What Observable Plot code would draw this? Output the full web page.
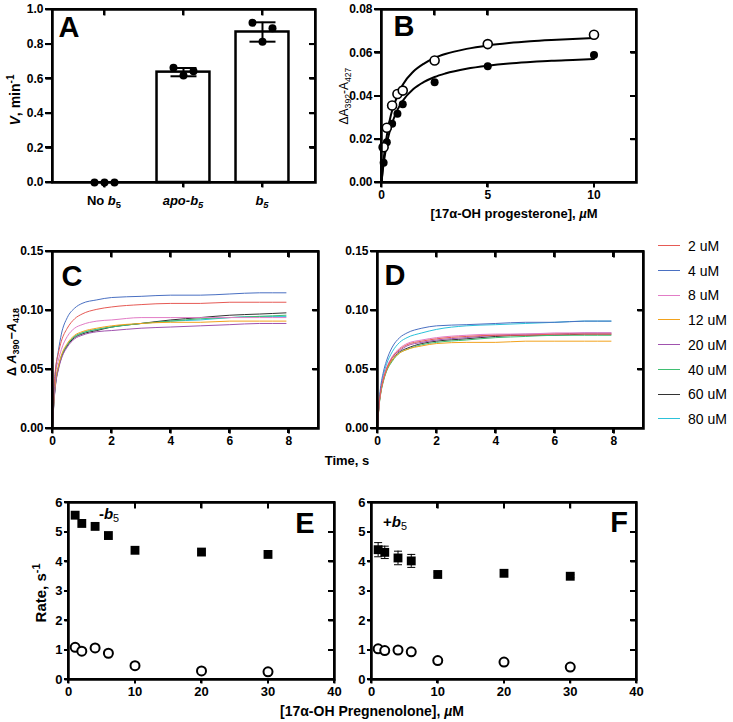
<!DOCTYPE html>
<html><head><meta charset="utf-8">
<script src="https://cdn.jsdelivr.net/npm/d3@7"></script>
<script src="https://cdn.jsdelivr.net/npm/@observablehq/plot@0.6"></script>
<style>
body{margin:0;background:#fff;}
#fig{position:relative;width:733px;height:722px;font-family:"Liberation Sans",Arial,sans-serif;background:#fff;}
.pnl{position:absolute;}
.lbl{position:absolute;white-space:nowrap;color:#000;line-height:1;}
.lbl sub{font-size:0.72em;vertical-align:-0.35em;line-height:0;}
.lbl sup{font-size:0.72em;vertical-align:0.55em;line-height:0;}
.leg{position:absolute;height:0;border-top:1.5px solid #000;width:22px;}
.deco{position:absolute;box-sizing:border-box;pointer-events:none;}
</style></head><body><div id="fig"></div>
<script>
// ---------------- Panel A data ----------------
const aCategories = ["No b5", "apo-b5", "b5"];
const aCategoryLabels = ["No <i>b</i><sub>5</sub>", "<i>apo-b</i><sub><i>5</i></sub>", "<i>b</i><sub><i>5</i></sub>"];
const aMeans = [0, 0.638, 0.870];
const aSD = [0, 0.024, 0.056];
const aRep1 = [0, 0.663, 0.923];
const aRep2 = [0, 0.618, 0.813];
const aRep3 = [0, 0.643, 0.892];
const aYTicks = [0, 0.2, 0.4, 0.6, 0.8, 1.0];

// ---------------- Panel B data ----------------
const bConc = [0.1, 0.25, 0.5, 0.75, 1, 2.5, 5, 10];
const bOpen = [0.0163, 0.0253, 0.0356, 0.0409, 0.0425, 0.0564, 0.0640, 0.0683];
const bFilled = [0.0091, 0.0186, 0.0272, 0.0318, 0.0362, 0.0464, 0.0538, 0.0590];
const bCurveX = [0, 0.05, 0.1, 0.2, 0.3, 0.4, 0.5, 0.75, 1, 1.5, 2, 2.5, 3, 4, 5, 6, 7, 8, 9, 10];
const bCurveOpen = [0, 0.0058, 0.0107, 0.0185, 0.0246, 0.0294, 0.0333, 0.0400, 0.0452, 0.0513, 0.0550, 0.0576, 0.0594, 0.0618, 0.0634, 0.0645, 0.0653, 0.0659, 0.0664, 0.0668];
const bCurveFilled = [0, 0.0047, 0.0086, 0.0151, 0.0202, 0.0242, 0.0275, 0.0336, 0.0378, 0.0432, 0.0465, 0.0488, 0.0504, 0.0526, 0.0540, 0.0550, 0.0557, 0.0563, 0.0567, 0.0571];
const bYTicks = [0, 0.02, 0.04, 0.06, 0.08];
const bXTicks = [0, 5, 10];

// ---------------- Panels C / D data ----------------
const concLabels = ["2 uM", "4 uM", "8 uM", "12 uM", "20 uM", "40 uM", "60 uM", "80 uM"];
const concColors = ["#e65a55", "#4a70c2", "#e27cc6", "#f2a21c", "#a052ae", "#3fbf72", "#333333", "#2cc2da"];
const traceTimes = [0, 0.05, 0.1, 0.2, 0.3, 0.5, 0.75, 1, 1.5, 2, 3, 4, 5, 6, 7, 7.9];
const tracesC = [
  [0, 0.035, 0.050, 0.064, 0.074, 0.085, 0.093, 0.097, 0.101, 0.103, 0.105, 0.106, 0.106, 0.107, 0.107, 0.107],
  [0, 0.030, 0.048, 0.066, 0.080, 0.094, 0.102, 0.106, 0.109, 0.111, 0.112, 0.113, 0.113, 0.114, 0.115, 0.115],
  [0, 0.030, 0.045, 0.058, 0.067, 0.078, 0.085, 0.088, 0.091, 0.092, 0.094, 0.094, 0.094, 0.094, 0.094, 0.094],
  [0, 0.025, 0.040, 0.053, 0.062, 0.072, 0.079, 0.082, 0.085, 0.087, 0.089, 0.090, 0.090, 0.091, 0.091, 0.091],
  [0, 0.022, 0.036, 0.050, 0.059, 0.069, 0.076, 0.079, 0.082, 0.083, 0.085, 0.086, 0.087, 0.088, 0.089, 0.089],
  [0, 0.024, 0.038, 0.052, 0.061, 0.071, 0.078, 0.081, 0.084, 0.086, 0.089, 0.091, 0.093, 0.094, 0.095, 0.096],
  [0, 0.023, 0.037, 0.051, 0.060, 0.070, 0.077, 0.080, 0.083, 0.086, 0.089, 0.092, 0.094, 0.096, 0.097, 0.098],
  [0, 0.024, 0.038, 0.052, 0.061, 0.071, 0.078, 0.081, 0.084, 0.086, 0.089, 0.091, 0.092, 0.094, 0.095, 0.095]
];
const tracesD = [
  [0, 0.020, 0.030, 0.042, 0.050, 0.060, 0.067, 0.071, 0.074, 0.076, 0.078, 0.079, 0.079, 0.080, 0.080, 0.080],
  [0, 0.022, 0.034, 0.048, 0.057, 0.069, 0.077, 0.081, 0.085, 0.087, 0.088, 0.089, 0.090, 0.090, 0.091, 0.091],
  [0, 0.020, 0.031, 0.043, 0.051, 0.061, 0.068, 0.072, 0.075, 0.077, 0.079, 0.080, 0.080, 0.081, 0.081, 0.081],
  [0, 0.019, 0.029, 0.041, 0.049, 0.058, 0.064, 0.067, 0.070, 0.072, 0.073, 0.073, 0.074, 0.074, 0.074, 0.074],
  [0, 0.019, 0.030, 0.042, 0.050, 0.060, 0.066, 0.070, 0.073, 0.075, 0.077, 0.079, 0.080, 0.080, 0.081, 0.081],
  [0, 0.018, 0.028, 0.040, 0.048, 0.057, 0.064, 0.067, 0.071, 0.073, 0.075, 0.077, 0.078, 0.079, 0.079, 0.079],
  [0, 0.019, 0.029, 0.041, 0.049, 0.058, 0.065, 0.068, 0.072, 0.074, 0.076, 0.078, 0.079, 0.079, 0.080, 0.080],
  [0, 0.020, 0.031, 0.045, 0.054, 0.065, 0.073, 0.077, 0.081, 0.084, 0.087, 0.088, 0.089, 0.090, 0.091, 0.091]
];
const cdYTicks = [0, 0.05, 0.10, 0.15];
const cdXTicks = [0, 2, 4, 6, 8];

// ---------------- Panels E / F data ----------------
const efConc = [1, 2, 4, 6, 10, 20, 30];
const eFast = [5.57, 5.29, 5.19, 4.88, 4.38, 4.32, 4.24];
const eSlow = [1.09, 0.96, 1.07, 0.89, 0.47, 0.29, 0.26];
const fFast = [4.40, 4.31, 4.12, 4.02, 3.56, 3.60, 3.50];
const fFastErr = [0.24, 0.21, 0.23, 0.22, 0.08, 0.08, 0.05];
const fSlow = [1.04, 0.98, 1.00, 0.94, 0.64, 0.59, 0.42];
const efYTicks = [0, 1, 2, 3, 4, 5, 6];
const efXTicks = [0, 10, 20, 30, 40];

// ---------------- helpers ----------------
const fig = document.getElementById("fig");
const FONT = '"Liberation Sans", Arial, sans-serif';
const decorations = [];
function panel([bx, by, bw, bh], [l, t, r, b], opts, fontSize = "12px") {
  const svg = Plot.plot({
    width: bw, height: bh,
    marginLeft: l - bx, marginTop: t - by, marginRight: bx + bw - r, marginBottom: by + bh - b,
    style: {background: "white", fontFamily: FONT, fontSize, fontWeight: "bold", color: "black"},
    ...opts
  });
  svg.classList.add("pnl");
  svg.style.left = bx + "px";
  svg.style.top = by + "px";
  fig.appendChild(svg);
  return svg;
}
function label(html, x, y, {size = 12, weight = "bold", rotate = false, anchor = "middle"} = {}) {
  const d = document.createElement("div");
  d.className = "lbl";
  d.innerHTML = html;
  d.style.left = x + "px";
  d.style.top = y + "px";
  d.style.fontSize = size + "px";
  d.style.fontWeight = weight;
  const tx = anchor === "middle" ? "-50%" : anchor === "start" ? "0" : "-100%";
  d.style.transform = `translate(${tx},-50%)` + (rotate ? " rotate(-90deg)" : "");
  fig.appendChild(d);
  return d;
}
const capSymbol = {draw(ctx, size) { const h = Math.sqrt(size / Math.PI); ctx.moveTo(-h, 0); ctx.lineTo(h, 0); }};
const tickLeftSym = {draw(ctx, size) { const h = Math.sqrt(size / Math.PI); ctx.moveTo(0, 0); ctx.lineTo(-h, 0); }};
const tickDownSym = {draw(ctx, size) { const h = Math.sqrt(size / Math.PI); ctx.moveTo(0, 0); ctx.lineTo(0, h); }};

function frameMarks(xd, yd, {yLeft, yFmt, ySize = 7, xBottom, xFmt, xSize = 5, yRight, xTop, inSize = 6}) {
  const tickStyle = {stroke: "black", strokeWidth: 2, fill: "none"};
  const marks = [
    Plot.frame({stroke: "black", strokeWidth: 2.5}),
    Plot.dot(yLeft, {x: () => xd[0], y: d => d, symbol: tickLeftSym, r: ySize, ...tickStyle}),
    Plot.dot(xBottom, {x: d => d, y: () => yd[0], symbol: tickDownSym, r: xSize, ...tickStyle}),
    Plot.dot(yRight, {x: () => xd[1], y: d => d, symbol: tickLeftSym, r: inSize, ...tickStyle}),
    Plot.dot(xTop, {x: d => d, y: () => yd[1], symbol: tickDownSym, r: inSize, ...tickStyle}),
    Plot.axisY({anchor: "left", ticks: yLeft, tickFormat: yFmt, tickSize: 0, tickPadding: ySize + 2, label: null})
  ];
  if (xFmt) marks.push(Plot.axisX({anchor: "bottom", ticks: xBottom, tickFormat: xFmt, tickSize: 0, tickPadding: xSize + 3, label: null}));
  return marks;
}
// frame box and tick strokes placed with the panel's own Plot scales, drawn on top of the panel
function decorate(svg, [bx, by], [l, t, r, b], {yLeft, ySize = 7, xBottom, xSize = 5, yRight, xTop, inSize = 6}) {
  const sx = svg.scale("x"), sy = svg.scale("y");
  const add = css => { const d = document.createElement("div"); d.className = "deco"; Object.assign(d.style, css); fig.appendChild(d); };
  add({left: (l - 1.25) + "px", top: (t - 1.25) + "px", width: (r - l + 2.5) + "px", height: (b - t + 2.5) + "px", border: "2.5px solid #000"});
  yLeft.forEach(v => { const y = by + sy.apply(v); add({left: (l - ySize) + "px", top: (y - 1) + "px", width: ySize + "px", height: "2px", background: "#000"}); });
  yRight.forEach(v => { const y = by + sy.apply(v); add({left: (r - inSize) + "px", top: (y - 1) + "px", width: inSize + "px", height: "2px", background: "#000"}); });
  xBottom.forEach(v => { const x = bx + sx.apply(v); add({left: (x - 1) + "px", top: b + "px", width: "2px", height: xSize + "px", background: "#000"}); });
  xTop.forEach(v => { const x = bx + sx.apply(v); add({left: (x - 1) + "px", top: t + "px", width: "2px", height: inSize + "px", background: "#000"}); });
}

// ---------------- Panel A ----------------
const aIdx = aCategories.map((c, i) => i);
const aXDomain = [-0.658, 2.671];
const aRows = aCategories.map((c, i) => ({i, mean: aMeans[i], sd: aSD[i]}));
const aErr = aRows.filter(d => d.sd > 0);
const aCaps = aErr.flatMap(d => [{i: d.i, y: d.mean - d.sd}, {i: d.i, y: d.mean + d.sd}]);
const aReps = [aRep1, aRep2, aRep3];
const aDx = [-10, 0, 10];
const aHalfBar = 0.335;
const boxA = [0, 0, 330, 228], frameA = [52, 9, 315, 182];
const specA = {yLeft: aYTicks, yFmt: d => d.toFixed(1), xBottom: aIdx, xFmt: null, yRight: [0.2, 0.4, 0.6, 0.8], xTop: aIdx};
const svgA = panel(boxA, frameA, {
  x: {domain: aXDomain, axis: null},
  y: {domain: [0, 1]},
  marks: [
    Plot.rectY(aRows.filter(d => d.mean > 0), {x1: d => d.i - aHalfBar, x2: d => d.i + aHalfBar, y1: 0, y2: "mean", fill: "white", stroke: "black", strokeWidth: 2.5}),
    Plot.ruleX(aErr, {x: "i", y1: d => d.mean - d.sd, y2: d => d.mean + d.sd, stroke: "black", strokeWidth: 2}),
    Plot.dot(aCaps, {x: "i", y: "y", symbol: capSymbol, r: 13, fill: "none", stroke: "black", strokeWidth: 2}),
    ...aReps.map((rep, j) => Plot.dot(aIdx.map(i => ({i, v: rep[i]})), {x: "i", y: "v", r: 4, fill: "black", dx: aDx[j]})),
    ...frameMarks(aXDomain, [0, 1], specA)
  ]
});
decorations.push([svgA, boxA, frameA, specA]);
const sxA = svgA.scale("x");

// ---------------- Panel B ----------------
const bCurves = bCurveX.flatMap((x, i) => [{x, y: bCurveOpen[i], s: "open"}, {x, y: bCurveFilled[i], s: "filled"}]);
const boxB = [330, 0, 320, 228], frameB = [381, 9, 636, 182];
const specB = {yLeft: bYTicks, yFmt: d => d.toFixed(2), xBottom: bXTicks, xFmt: d => String(d), yRight: [0.02, 0.04, 0.06], xTop: [2.5, 5]};
const svgB = panel(boxB, frameB, {
  x: {domain: [0, 12]},
  y: {domain: [0, 0.08]},
  marks: [
    Plot.line(bCurves, {x: "x", y: "y", z: "s", stroke: "black", strokeWidth: 2, curve: "monotone-x"}),
    Plot.dot(bConc.map((c, i) => ({c, v: bFilled[i]})), {x: "c", y: "v", r: 4, fill: "black"}),
    Plot.dot(bConc.map((c, i) => ({c, v: bOpen[i]})), {x: "c", y: "v", r: 4.5, fill: "white", stroke: "black", strokeWidth: 1.6}),
    ...frameMarks([0, 12], [0, 0.08], specB)
  ]
});
decorations.push([svgB, boxB, frameB, specB]);

// ---------------- Panels C / D ----------------
function traceRows(traces) {
  return traces.flatMap((vals, i) => traceTimes.map((t, j) => ({t, v: vals[j], s: concLabels[i]})));
}
const specCD = {yLeft: cdYTicks, yFmt: d => d.toFixed(2), xBottom: cdXTicks, xFmt: d => String(d), yRight: [0.05, 0.10], xTop: [2, 4, 6, 8]};
function tracePanel(box, frame, traces) {
  const svg = panel(box, frame, {
    x: {domain: [0, 9]},
    y: {domain: [0, 0.15]},
    color: {domain: concLabels, range: concColors},
    marks: [
      Plot.line(traceRows(traces).reverse(), {x: "t", y: "v", z: "s", stroke: "s", strokeWidth: 1, curve: "monotone-x"}),
      ...frameMarks([0, 9], [0, 0.15], specCD)
    ]
  });
  decorations.push([svg, box, frame, specCD]);
}
tracePanel([0, 232, 330, 220], [52, 251, 318, 428], tracesC);
tracePanel([330, 232, 320, 220], [377, 251, 643, 428], tracesD);

// ---------------- Panels E / F ----------------
const specEF = {yLeft: efYTicks, yFmt: d => String(d), ySize: 4, xBottom: efXTicks, xFmt: d => String(d), xSize: 4, yRight: [1, 2, 3, 4, 5], xTop: [10, 20, 30]};
function ratePanel(box, frame, fast, slow, err) {
  const rowsFast = efConc.map((c, i) => ({c, v: fast[i], e: err ? err[i] : 0}));
  const rowsSlow = efConc.map((c, i) => ({c, v: slow[i]}));
  const marks = [];
  if (err) {
    marks.push(Plot.ruleX(rowsFast, {x: "c", y1: d => d.v - d.e, y2: d => d.v + d.e, stroke: "black", strokeWidth: 1}));
    marks.push(Plot.dot(rowsFast.flatMap(d => [{c: d.c, y: d.v - d.e}, {c: d.c, y: d.v + d.e}]), {x: "c", y: "y", symbol: capSymbol, r: 4, fill: "none", stroke: "black", strokeWidth: 1}));
  }
  marks.push(
    Plot.dot(rowsFast, {x: "c", y: "v", symbol: "square", r: 5, fill: "black"}),
    Plot.dot(rowsSlow, {x: "c", y: "v", r: 4.5, fill: "white", stroke: "black", strokeWidth: 2}),
    ...frameMarks([0, 40], [0, 6], specEF)
  );
  const svg = panel(box, frame, {x: {domain: [0, 40]}, y: {domain: [0, 6]}, marks}, "13px");
  decorations.push([svg, box, frame, specEF]);
}
ratePanel([0, 480, 350, 220], [68, 502, 334, 679], eFast, eSlow, null);
ratePanel([350, 480, 300, 220], [371, 502, 636, 679], fFast, fSlow, fFastErr);

// frames and ticks on top of every panel
decorations.forEach(([svg, box, frame, spec]) => decorate(svg, box, frame, spec));

// ---------------- legend ----------------
concLabels.forEach((c, i) => {
  const y = 246 + i * 24.7;
  const ln = document.createElement("div");
  ln.className = "leg";
  ln.style.left = "658px";
  ln.style.top = (y - 0.7) + "px";
  ln.style.borderTopColor = concColors[i];
  fig.appendChild(ln);
  label(c, 688, y, {size: 14, weight: "normal", anchor: "start"});
});

// ---------------- text overlays ----------------
aCategories.forEach((c, i) => label(aCategoryLabels[i], boxA[0] + sxA.apply(i), 200, {size: 13}));
label("A", 69, 27, {size: 29});
label("B", 404, 26, {size: 29});
label("C", 72, 276, {size: 29});
label("D", 395, 275, {size: 29});
label("E", 305, 523, {size: 29});
label("F", 619, 522, {size: 29});
label("<i>V</i>, min<sup>-1</sup>", 15, 100, {size: 14, rotate: true});
label("ΔA<sub>392</sub>-A<sub>427</sub>", 344, 96, {size: 12, weight: "normal", rotate: true});
label("[17α-OH progesterone], <i>µ</i>M", 514, 213, {size: 13});
label("Δ <i>A</i><sub>390</sub>−<i>A</i><sub>418</sub>", 12, 342, {size: 12.5, rotate: true});
label("Time, s", 347, 460, {size: 13});
label("-<i>b</i><sub style='font-weight:normal'>5</sub>", 109, 513, {size: 15});
label("+<i>b</i><sub style='font-weight:normal'>5</sub>", 395, 521, {size: 15});
label("Rate, s<sup>-1</sup>", 40, 593, {size: 15, rotate: true});
label("[17α-OH Pregnenolone], <i>µ</i>M", 372, 711, {size: 14});
</script></body></html>
